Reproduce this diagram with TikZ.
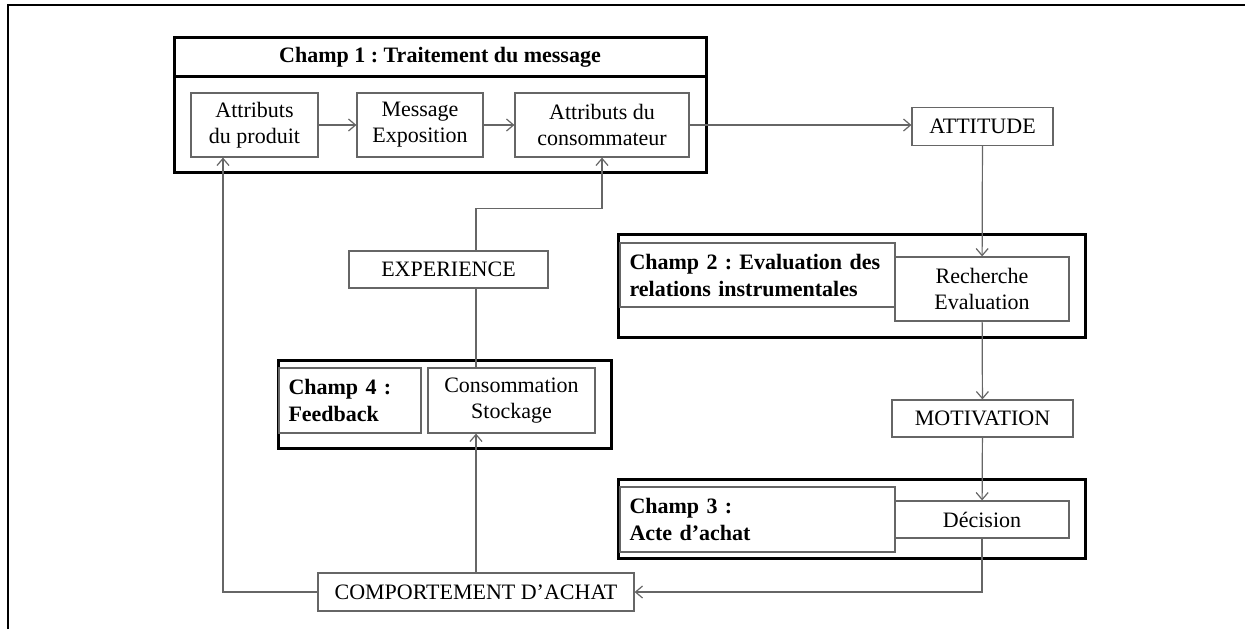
\documentclass[tikz,border=0pt]{standalone}
\usepackage{fontspec}
\setmainfont{Liberation Serif}
\usetikzlibrary{arrows.meta}
\tikzstyle{schemastyle}=[
    x=0.5pt, y=-0.5pt,
    >={Straight Barb[length=3.5pt,width=6pt]},
    font=\fontsize{11}{13}\selectfont\frenchspacing,
    line width=0.6pt,
]
\tikzstyle{champ}=[draw=black, line width=1.5pt]
\tikzstyle{boite}=[draw=black!60, fill=white, align=center, inner sep=0pt]
\tikzstyle{titre}=[draw=black!60, fill=white, align=left, inner xsep=4.75pt,
    inner ysep=0pt, font=\fontsize{11}{13.5}\selectfont\frenchspacing\bfseries]
\tikzstyle{lien}=[draw=black!60]

\begin{document}
\begin{tikzpicture}[schemastyle]
    \useasboundingbox (0,0) rectangle (1245,629);
    \draw[line width=1pt] (8,629) -- (8,5) -- (1245,5);

    % les champs
    \draw[champ] (174,37) rectangle (706,172);
    \draw[champ] (174,76) -- (706,76);
    \draw[champ] (618,234) rectangle (1085,337);
    \draw[champ] (618,479) rectangle (1085,558);
    \draw[champ] (278,360) rectangle (611,448);

    \node (titre1) at (440,57) [font=\fontsize{11}{13}\selectfont\frenchspacing\bfseries] {Champ 1 : Traitement du message};
    \node (titre2) at (757.5,275) [titre, text width=128pt, minimum height=32pt] {Champ 2 : Evaluation des\\relations instrumentales};
    \node (titre3) at (757.5,519.5) [titre, text width=128pt, minimum height=32.5pt] {Champ 3 :\\Acte d’achat};
    \node (titre4) at (350,400.5) [titre, text width=61.5pt, minimum height=32.5pt] {Champ 4 :\\Feedback};

    % les boites
    \node (produit) at (254.5,125) [boite, minimum width=63.5pt, minimum height=32pt] {Attributs\\du produit};
    \node (message) at (420,125) [boite, minimum width=63pt, minimum height=32pt] {Message\\Exposition};
    \node (consommateur) at (602,125) [boite, minimum width=87pt, minimum height=32pt] {Attributs du\\consommateur};
    \node (attitude) at (982.5,126.5) [boite, minimum width=70.5pt, minimum height=19pt] {ATTITUDE};
    \node (recherche) at (982,289) [boite, minimum width=87pt, minimum height=32pt] {Recherche\\Evaluation};
    \node (motivation) at (982.5,418.5) [boite, minimum width=90.5pt, minimum height=18.5pt] {MOTIVATION};
    \node (decision) at (982,519.5) [boite, minimum width=87pt, minimum height=18.5pt] {Décision};
    \node (comportement) at (476,592) [boite, minimum width=158pt, minimum height=19pt] {COMPORTEMENT D’ACHAT};
    \node (consommation) at (511.5,400.5) [boite, minimum width=83.5pt, minimum height=32.5pt] {Consommation\\Stockage};
    \node (experience) at (448.5,269.5) [boite, minimum width=99.5pt, minimum height=18.5pt] {EXPERIENCE};

    % les liens
    \draw[lien, ->] (produit) -- (message);
    \draw[lien, ->] (message) -- (consommateur);
    \draw[lien, ->] (consommateur.east) -- (consommateur.east -| attitude.west);
    \draw[lien, ->] (attitude) -- (recherche);
    \draw[lien, ->] (recherche) -- (motivation);
    \draw[lien, ->] (motivation) -- (decision);
    \draw[lien, ->] (decision.south) |- (comportement.east);
    \draw[lien, ->] (comportement.west) -| ([xshift=-15.75pt]produit.south);
    \draw[lien, ->] (comportement.north) -- (comportement.north |- consommation.south);
    \draw[lien] (consommation.north -| comportement.north) -- (experience.south -| comportement.north);
    \draw[lien, ->] (experience.north -| comportement.north) -- ++(0,-42) -| (consommateur.south);
\end{tikzpicture}
\end{document}
